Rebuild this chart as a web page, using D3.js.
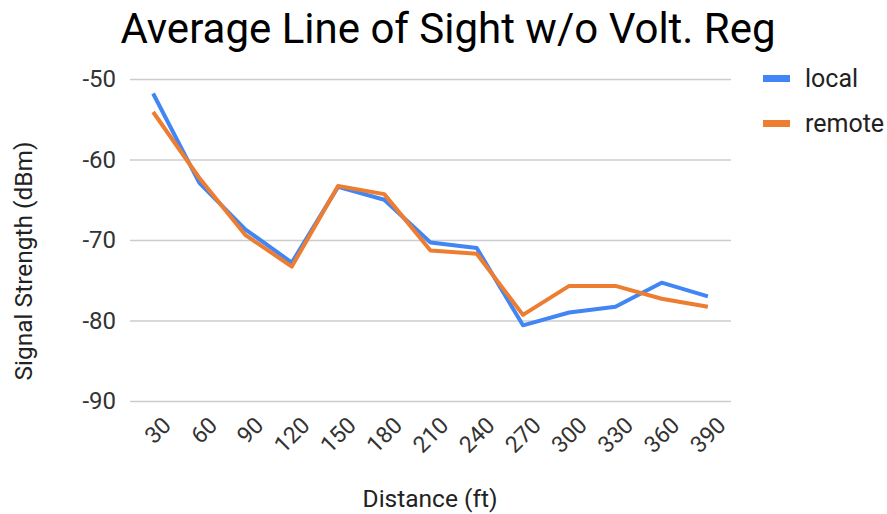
<!DOCTYPE html>
<html>
<head>
<meta charset="utf-8">
<script src="https://cdn.jsdelivr.net/npm/d3@7"></script>
<style>
  body { margin: 0; background: #fff; }
  text { font-family: Roboto, "Noto Sans", sans-serif; }
</style>
</head>
<body>
<div id="chart"></div>
<script>
// distances along the x axis
const distances = ['30', '60', '90', '120', '150', '180', '210', '240', '270', '300', '330', '360', '390'];
// signal strength (dBm)
const localValues = [-51.8, -62.9, -68.7, -72.8, -63.4, -65.0, -70.3, -71.0, -80.6, -79.0, -78.3, -75.3, -77.0];
const remoteValues = [-54.1, -62.3, -69.4, -73.3, -63.3, -64.3, -71.3, -71.7, -79.3, -75.7, -75.7, -77.3, -78.3];
const yTicks = [-50, -60, -70, -80, -90];
const seriesNames = ['local', 'remote'];
const colors = ['#4285f4', '#ed7d31'];

const width = 887, height = 514;
const margin = { top: 79, right: 156, bottom: 113, left: 130 };
const innerWidth = width - margin.left - margin.right;
const innerHeight = height - margin.top - margin.bottom;

const svg = d3.select('#chart').append('svg')
  .attr('width', width)
  .attr('height', height);

const mg = svg.append('g')
  .attr('transform', `translate(${margin.left},${margin.top})`);

const xScale = d3.scalePoint()
  .domain(distances)
  .range([0, innerWidth])
  .padding(0.5);
const yScale = d3.scaleLinear()
  .domain([-90, -50])
  .range([innerHeight, 0]);

// grid + y labels
mg.append('g')
  .call(d3.axisLeft(yScale).tickValues(yTicks).tickFormat(d => String(d))
    .tickSize(-innerWidth).tickPadding(14))
  .call(g => g.select('.domain').remove())
  .call(g => g.selectAll('.tick line').attr('stroke', '#cccccc').attr('stroke-width', 1.5))
  .call(g => g.selectAll('.tick text')
    .attr('font-size', 24)
    .attr('fill', '#333')
    .attr('font-family', 'Roboto, sans-serif'));

// x labels
mg.append('g')
  .attr('transform', `translate(0,${innerHeight})`)
  .call(d3.axisBottom(xScale).tickSize(0))
  .call(g => g.select('.domain').remove())
  .call(g => g.selectAll('.tick text')
    .attr('font-size', 23)
    .attr('fill', '#333')
    .attr('font-family', 'Roboto, sans-serif')
    .attr('text-anchor', 'end')
    .attr('dy', '0.35em')
    .attr('transform', 'translate(11,18) rotate(-45)'));

// lines
const series = [localValues, remoteValues];
const line = d3.line()
  .x((d, i) => xScale(distances[i]))
  .y(d => yScale(d));

series.forEach((vals, k) => {
  mg.append('path')
    .datum(vals)
    .attr('fill', 'none')
    .attr('stroke', colors[k])
    .attr('stroke-width', 4)
    .attr('stroke-linejoin', 'round')
    .attr('d', line);
});

// title
svg.append('text')
  .attr('x', 448)
  .attr('y', 43)
  .attr('text-anchor', 'middle')
  .attr('font-size', 42)
  .attr('fill', '#000')
  .text('Average Line of Sight w/o Volt. Reg');

// axis titles
svg.append('text')
  .attr('x', 430)
  .attr('y', 507)
  .attr('text-anchor', 'middle')
  .attr('font-size', 24.5)
  .attr('fill', '#222')
  .text('Distance (ft)');

svg.append('text')
  .attr('transform', 'translate(32,261) rotate(-90)')
  .attr('text-anchor', 'middle')
  .attr('font-size', 24.5)
  .attr('fill', '#222')
  .text('Signal Strength (dBm)');

// legend
const legend = svg.append('g').attr('transform', 'translate(763,78)');
seriesNames.forEach((name, i) => {
  const row = legend.append('g').attr('transform', `translate(0,${i * 45})`);
  row.append('rect')
    .attr('x', 0).attr('y', -3)
    .attr('width', 27).attr('height', 7)
    .attr('fill', colors[i]);
  row.append('text')
    .attr('x', 42).attr('y', 9)
    .attr('font-size', 25)
    .attr('fill', '#222')
    .text(name);
});
</script>
</body>
</html>
